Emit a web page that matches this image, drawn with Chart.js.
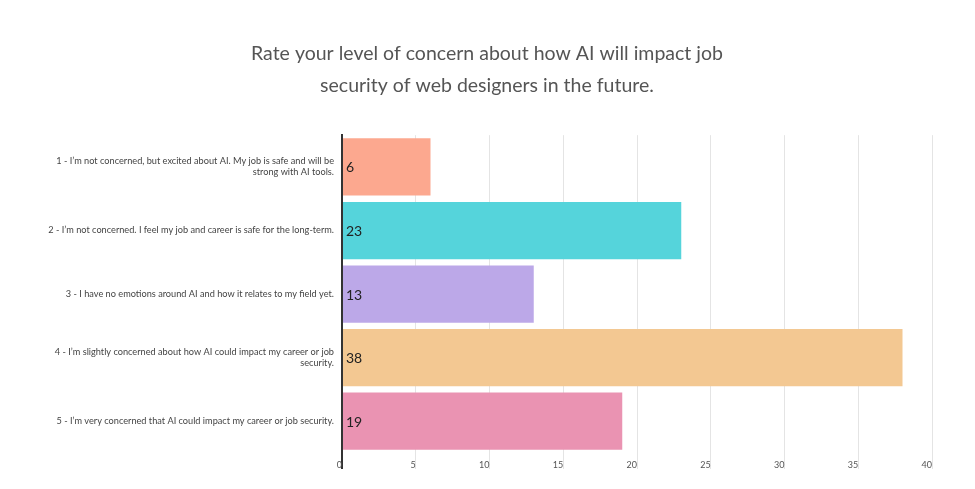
<!DOCTYPE html>
<html>
<head>
<meta charset="utf-8">
<script src="https://cdn.jsdelivr.net/npm/chart.js@4"></script>
<style>
  html, body { margin: 0; padding: 0; background: #fff; }
  #wrap { width: 975px; height: 489px; }
</style>
</head>
<body>
<div id="wrap"><canvas id="concernChart"></canvas></div>
<script>
const titleLines = [
    'Rate your level of concern about how AI will impact job',
    'security of web designers in the future.'
];
const answers = [
    ['1 - I\u2019m not concerned, but excited about AI. My job is safe and will be', 'strong with AI tools.'],
    '2 - I\u2019m not concerned. I feel my job and career is safe for the long-term.',
    '3 - I have no emotions around AI and how it relates to my field yet.',
    ['4 - I\u2019m slightly concerned about how AI could impact my career or job', 'security.'],
    '5 - I\u2019m very concerned that AI could impact my career or job security.'
];
const responses = [6, 23, 13, 38, 19];
const barColors = ['#fca88f', '#55d4db', '#bca8e8', '#f3c892', '#ea93b2'];

// draw the count at the start of each bar
const valueLabels = {
    id: 'valueLabels',
    afterDatasetsDraw(chart) {
        const ctx = chart.ctx;
        const meta = chart.getDatasetMeta(0);
        ctx.save();
        ctx.font = '14px Lato, sans-serif';
        ctx.fillStyle = '#222';
        ctx.textAlign = 'left';
        ctx.textBaseline = 'middle';
        meta.data.forEach((bar, i) => {
            ctx.fillText(String(responses[i]), bar.base + 3, bar.y + 1);
        });
        ctx.restore();
    }
};

const ctx = document.getElementById('concernChart').getContext('2d');
new Chart(ctx, {
    type: 'bar',
    data: {
        labels: answers,
        datasets: [{
            data: responses,
            backgroundColor: barColors,
            borderWidth: 0,
            barPercentage: 1,
            categoryPercentage: 0.9
        }]
    },
    options: {
        indexAxis: 'y',
        responsive: true,
        maintainAspectRatio: false,
        animation: false,
        layout: { padding: { left: 42, right: 43, top: 0, bottom: 0 } },
        scales: {
            x: {
                min: 0,
                max: 40,
                ticks: {
                    stepSize: 5,
                    align: 'end',
                    color: '#555',
                    font: { family: 'Lato, sans-serif', size: 9 },
                    padding: -9
                },
                grid: {
                    color: c => c.index === 0 ? '#333' : '#e4e4e4',
                    lineWidth: c => c.index === 0 ? 2 : 1,
                    tickLength: 16
                },
                border: { display: false },
                afterFit: scale => { scale.height = 36; }
            },
            y: {
                ticks: {
                    color: '#444',
                    font: { family: 'Lato, sans-serif', size: 9.2 },
                    padding: 0
                },
                grid: { display: false },
                border: { display: true, color: '#333', width: 2 },
                afterFit: scale => { scale.width = 300; }
            }
        },
        plugins: {
            legend: { display: false },
            tooltip: { enabled: false },
            title: {
                display: true,
                text: titleLines,
                color: '#555',
                font: { family: 'Lato, sans-serif', size: 19.5, weight: 'normal', lineHeight: 1.62 },
                padding: { top: 38, bottom: 34 }
            }
        }
    },
    plugins: [valueLabels]
});
</script>
</body>
</html>
